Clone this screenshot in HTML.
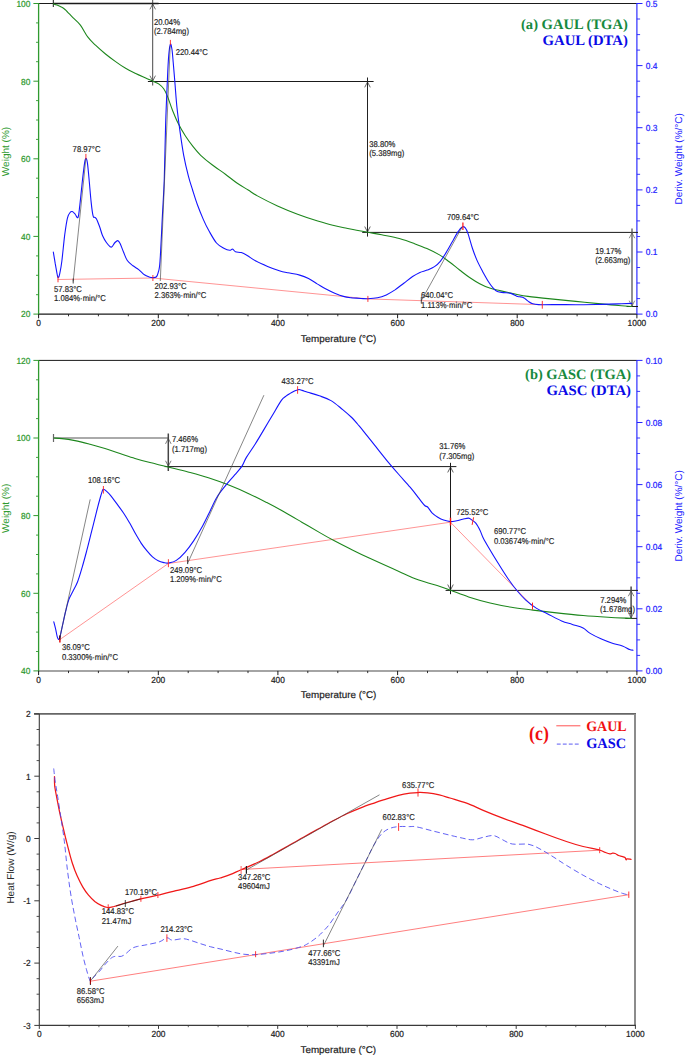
<!DOCTYPE html>
<html lang="en">
<head>
<meta charset="utf-8">
<title>TGA / DTA / DSC curves of GAUL and GASC</title>
<style>
html,body{margin:0;padding:0;background:#fff;}
body{width:685px;height:1055px;overflow:hidden;}
svg{display:block;}
text{white-space:pre;text-rendering:geometricPrecision;}
</style>
</head>
<body>
<svg width="685" height="1055" viewBox="0 0 685 1055">
<rect x="0" y="0" width="685" height="1055" fill="#ffffff"/>
<line x1="38.6" y1="3.5" x2="636.9" y2="3.5" stroke="#1a1a1a" stroke-width="1"/>
<line x1="38.6" y1="314.1" x2="636.9" y2="314.1" stroke="#1a1a1a" stroke-width="1.3"/>
<line x1="38.6" y1="3.0" x2="38.6" y2="314.6" stroke="#2f9a2f" stroke-width="1.3"/>
<line x1="636.9" y1="3.0" x2="636.9" y2="314.6" stroke="#2424ff" stroke-width="1.15"/>
<line x1="36.0" y1="294.7" x2="38.6" y2="294.7" stroke="#2f9a2f" stroke-width="0.9"/>
<line x1="36.0" y1="275.3" x2="38.6" y2="275.3" stroke="#2f9a2f" stroke-width="0.9"/>
<line x1="36.0" y1="255.9" x2="38.6" y2="255.9" stroke="#2f9a2f" stroke-width="0.9"/>
<line x1="36.0" y1="217.0" x2="38.6" y2="217.0" stroke="#2f9a2f" stroke-width="0.9"/>
<line x1="36.0" y1="197.6" x2="38.6" y2="197.6" stroke="#2f9a2f" stroke-width="0.9"/>
<line x1="36.0" y1="178.2" x2="38.6" y2="178.2" stroke="#2f9a2f" stroke-width="0.9"/>
<line x1="36.0" y1="139.4" x2="38.6" y2="139.4" stroke="#2f9a2f" stroke-width="0.9"/>
<line x1="36.0" y1="120.0" x2="38.6" y2="120.0" stroke="#2f9a2f" stroke-width="0.9"/>
<line x1="36.0" y1="100.6" x2="38.6" y2="100.6" stroke="#2f9a2f" stroke-width="0.9"/>
<line x1="36.0" y1="61.7" x2="38.6" y2="61.7" stroke="#2f9a2f" stroke-width="0.9"/>
<line x1="36.0" y1="42.3" x2="38.6" y2="42.3" stroke="#2f9a2f" stroke-width="0.9"/>
<line x1="36.0" y1="22.9" x2="38.6" y2="22.9" stroke="#2f9a2f" stroke-width="0.9"/>
<line x1="33.4" y1="3.5" x2="38.6" y2="3.5" stroke="#2f9a2f" stroke-width="1"/>
<text transform="translate(30.4 6.8) scale(0.95 1)" font-size="8.8" fill="#2f9a2f" stroke="#2f9a2f" stroke-width="0.22" text-anchor="end" font-family='"Liberation Sans", Arial, Helvetica, sans-serif' font-weight="normal">100</text>
<line x1="33.4" y1="81.2" x2="38.6" y2="81.2" stroke="#2f9a2f" stroke-width="1"/>
<text transform="translate(30.4 84.5) scale(0.95 1)" font-size="8.8" fill="#2f9a2f" stroke="#2f9a2f" stroke-width="0.22" text-anchor="end" font-family='"Liberation Sans", Arial, Helvetica, sans-serif' font-weight="normal">80</text>
<line x1="33.4" y1="158.8" x2="38.6" y2="158.8" stroke="#2f9a2f" stroke-width="1"/>
<text transform="translate(30.4 162.1) scale(0.95 1)" font-size="8.8" fill="#2f9a2f" stroke="#2f9a2f" stroke-width="0.22" text-anchor="end" font-family='"Liberation Sans", Arial, Helvetica, sans-serif' font-weight="normal">60</text>
<line x1="33.4" y1="236.4" x2="38.6" y2="236.4" stroke="#2f9a2f" stroke-width="1"/>
<text transform="translate(30.4 239.8) scale(0.95 1)" font-size="8.8" fill="#2f9a2f" stroke="#2f9a2f" stroke-width="0.22" text-anchor="end" font-family='"Liberation Sans", Arial, Helvetica, sans-serif' font-weight="normal">40</text>
<line x1="33.4" y1="314.1" x2="38.6" y2="314.1" stroke="#2f9a2f" stroke-width="1"/>
<text transform="translate(30.4 317.4) scale(0.95 1)" font-size="8.8" fill="#2f9a2f" stroke="#2f9a2f" stroke-width="0.22" text-anchor="end" font-family='"Liberation Sans", Arial, Helvetica, sans-serif' font-weight="normal">20</text>
<line x1="636.9" y1="298.6" x2="640.1" y2="298.6" stroke="#2424ff" stroke-width="0.9"/>
<line x1="636.9" y1="283.0" x2="640.1" y2="283.0" stroke="#2424ff" stroke-width="0.9"/>
<line x1="636.9" y1="267.5" x2="640.1" y2="267.5" stroke="#2424ff" stroke-width="0.9"/>
<line x1="636.9" y1="236.5" x2="640.1" y2="236.5" stroke="#2424ff" stroke-width="0.9"/>
<line x1="636.9" y1="220.9" x2="640.1" y2="220.9" stroke="#2424ff" stroke-width="0.9"/>
<line x1="636.9" y1="205.4" x2="640.1" y2="205.4" stroke="#2424ff" stroke-width="0.9"/>
<line x1="636.9" y1="174.3" x2="640.1" y2="174.3" stroke="#2424ff" stroke-width="0.9"/>
<line x1="636.9" y1="158.8" x2="640.1" y2="158.8" stroke="#2424ff" stroke-width="0.9"/>
<line x1="636.9" y1="143.3" x2="640.1" y2="143.3" stroke="#2424ff" stroke-width="0.9"/>
<line x1="636.9" y1="112.2" x2="640.1" y2="112.2" stroke="#2424ff" stroke-width="0.9"/>
<line x1="636.9" y1="96.7" x2="640.1" y2="96.7" stroke="#2424ff" stroke-width="0.9"/>
<line x1="636.9" y1="81.2" x2="640.1" y2="81.2" stroke="#2424ff" stroke-width="0.9"/>
<line x1="636.9" y1="50.1" x2="640.1" y2="50.1" stroke="#2424ff" stroke-width="0.9"/>
<line x1="636.9" y1="34.6" x2="640.1" y2="34.6" stroke="#2424ff" stroke-width="0.9"/>
<line x1="636.9" y1="19.0" x2="640.1" y2="19.0" stroke="#2424ff" stroke-width="0.9"/>
<line x1="636.9" y1="314.1" x2="642.5" y2="314.1" stroke="#2424ff" stroke-width="1"/>
<text transform="translate(645.8 317.2) scale(0.95 1)" font-size="8.8" fill="#2424ff" stroke="#2424ff" stroke-width="0.22" text-anchor="start" font-family='"Liberation Sans", Arial, Helvetica, sans-serif' font-weight="normal">0.0</text>
<line x1="636.9" y1="252.0" x2="642.5" y2="252.0" stroke="#2424ff" stroke-width="1"/>
<text transform="translate(645.8 255.1) scale(0.95 1)" font-size="8.8" fill="#2424ff" stroke="#2424ff" stroke-width="0.22" text-anchor="start" font-family='"Liberation Sans", Arial, Helvetica, sans-serif' font-weight="normal">0.1</text>
<line x1="636.9" y1="189.9" x2="642.5" y2="189.9" stroke="#2424ff" stroke-width="1"/>
<text transform="translate(645.8 193.0) scale(0.95 1)" font-size="8.8" fill="#2424ff" stroke="#2424ff" stroke-width="0.22" text-anchor="start" font-family='"Liberation Sans", Arial, Helvetica, sans-serif' font-weight="normal">0.2</text>
<line x1="636.9" y1="127.7" x2="642.5" y2="127.7" stroke="#2424ff" stroke-width="1"/>
<text transform="translate(645.8 130.8) scale(0.95 1)" font-size="8.8" fill="#2424ff" stroke="#2424ff" stroke-width="0.22" text-anchor="start" font-family='"Liberation Sans", Arial, Helvetica, sans-serif' font-weight="normal">0.3</text>
<line x1="636.9" y1="65.6" x2="642.5" y2="65.6" stroke="#2424ff" stroke-width="1"/>
<text transform="translate(645.8 68.7) scale(0.95 1)" font-size="8.8" fill="#2424ff" stroke="#2424ff" stroke-width="0.22" text-anchor="start" font-family='"Liberation Sans", Arial, Helvetica, sans-serif' font-weight="normal">0.4</text>
<line x1="636.9" y1="3.5" x2="642.5" y2="3.5" stroke="#2424ff" stroke-width="1"/>
<text transform="translate(645.8 6.6) scale(0.95 1)" font-size="8.8" fill="#2424ff" stroke="#2424ff" stroke-width="0.22" text-anchor="start" font-family='"Liberation Sans", Arial, Helvetica, sans-serif' font-weight="normal">0.5</text>
<line x1="38.6" y1="314.1" x2="38.6" y2="318.3" stroke="#1a1a1a" stroke-width="1"/>
<text transform="translate(38.6 326.2) scale(0.95 1)" font-size="8.8" fill="#1f1f1f" stroke="#1f1f1f" stroke-width="0.22" text-anchor="middle" font-family='"Liberation Sans", Arial, Helvetica, sans-serif' font-weight="normal">0</text>
<line x1="68.5" y1="314.1" x2="68.5" y2="316.3" stroke="#1a1a1a" stroke-width="0.9"/>
<line x1="98.4" y1="314.1" x2="98.4" y2="316.3" stroke="#1a1a1a" stroke-width="0.9"/>
<line x1="128.3" y1="314.1" x2="128.3" y2="316.3" stroke="#1a1a1a" stroke-width="0.9"/>
<line x1="158.3" y1="314.1" x2="158.3" y2="318.3" stroke="#1a1a1a" stroke-width="1"/>
<text transform="translate(158.3 326.2) scale(0.95 1)" font-size="8.8" fill="#1f1f1f" stroke="#1f1f1f" stroke-width="0.22" text-anchor="middle" font-family='"Liberation Sans", Arial, Helvetica, sans-serif' font-weight="normal">200</text>
<line x1="188.2" y1="314.1" x2="188.2" y2="316.3" stroke="#1a1a1a" stroke-width="0.9"/>
<line x1="218.1" y1="314.1" x2="218.1" y2="316.3" stroke="#1a1a1a" stroke-width="0.9"/>
<line x1="248.0" y1="314.1" x2="248.0" y2="316.3" stroke="#1a1a1a" stroke-width="0.9"/>
<line x1="277.9" y1="314.1" x2="277.9" y2="318.3" stroke="#1a1a1a" stroke-width="1"/>
<text transform="translate(277.9 326.2) scale(0.95 1)" font-size="8.8" fill="#1f1f1f" stroke="#1f1f1f" stroke-width="0.22" text-anchor="middle" font-family='"Liberation Sans", Arial, Helvetica, sans-serif' font-weight="normal">400</text>
<line x1="307.8" y1="314.1" x2="307.8" y2="316.3" stroke="#1a1a1a" stroke-width="0.9"/>
<line x1="337.8" y1="314.1" x2="337.8" y2="316.3" stroke="#1a1a1a" stroke-width="0.9"/>
<line x1="367.7" y1="314.1" x2="367.7" y2="316.3" stroke="#1a1a1a" stroke-width="0.9"/>
<line x1="397.6" y1="314.1" x2="397.6" y2="318.3" stroke="#1a1a1a" stroke-width="1"/>
<text transform="translate(397.6 326.2) scale(0.95 1)" font-size="8.8" fill="#1f1f1f" stroke="#1f1f1f" stroke-width="0.22" text-anchor="middle" font-family='"Liberation Sans", Arial, Helvetica, sans-serif' font-weight="normal">600</text>
<line x1="427.5" y1="314.1" x2="427.5" y2="316.3" stroke="#1a1a1a" stroke-width="0.9"/>
<line x1="457.4" y1="314.1" x2="457.4" y2="316.3" stroke="#1a1a1a" stroke-width="0.9"/>
<line x1="487.3" y1="314.1" x2="487.3" y2="316.3" stroke="#1a1a1a" stroke-width="0.9"/>
<line x1="517.2" y1="314.1" x2="517.2" y2="318.3" stroke="#1a1a1a" stroke-width="1"/>
<text transform="translate(517.2 326.2) scale(0.95 1)" font-size="8.8" fill="#1f1f1f" stroke="#1f1f1f" stroke-width="0.22" text-anchor="middle" font-family='"Liberation Sans", Arial, Helvetica, sans-serif' font-weight="normal">800</text>
<line x1="547.2" y1="314.1" x2="547.2" y2="316.3" stroke="#1a1a1a" stroke-width="0.9"/>
<line x1="577.1" y1="314.1" x2="577.1" y2="316.3" stroke="#1a1a1a" stroke-width="0.9"/>
<line x1="607.0" y1="314.1" x2="607.0" y2="316.3" stroke="#1a1a1a" stroke-width="0.9"/>
<line x1="636.9" y1="314.1" x2="636.9" y2="318.3" stroke="#1a1a1a" stroke-width="1"/>
<text transform="translate(636.9 326.2) scale(0.95 1)" font-size="8.8" fill="#1f1f1f" stroke="#1f1f1f" stroke-width="0.22" text-anchor="middle" font-family='"Liberation Sans", Arial, Helvetica, sans-serif' font-weight="normal">1000</text>
<text transform="translate(8.6 151.5) rotate(-90)" font-size="10" fill="#2f9a2f" text-anchor="middle" font-family='"Liberation Sans", Arial, Helvetica, sans-serif'>Weight (%)</text>
<text transform="translate(682.3 158.8) rotate(-90)" font-size="10" fill="#2424ff" text-anchor="middle" font-family='"Liberation Sans", Arial, Helvetica, sans-serif'>Deriv. Weight (%/°C)</text>
<text transform="translate(338.5 341.6) scale(0.985 0.98)" font-size="10" fill="#222" stroke="#222" stroke-width="0.2" text-anchor="middle" font-family='"Liberation Sans", Arial, Helvetica, sans-serif'>Temperature (°C)</text>
<line x1="53.3" y1="3.5" x2="158.6" y2="3.5" stroke="#1a1a1a" stroke-width="1.6"/>
<line x1="53.3" y1="0.0" x2="53.3" y2="7.0" stroke="#1a1a1a" stroke-width="1"/>
<line x1="147.9" y1="81.5" x2="373.6" y2="81.5" stroke="#1a1a1a" stroke-width="1"/>
<line x1="152.7" y1="3.5" x2="152.7" y2="81.5" stroke="#333" stroke-width="0.9"/>
<path d="M150.1 9.0 L152.7 4.0 L155.3 9.0" fill="none" stroke="#333" stroke-width="0.7" stroke-linejoin="round" stroke-linecap="round"/>
<path d="M150.1 76.0 L152.7 81.0 L155.3 76.0" fill="none" stroke="#333" stroke-width="0.7" stroke-linejoin="round" stroke-linecap="round"/>
<line x1="152.7" y1="0.0" x2="152.7" y2="3.5" stroke="#333" stroke-width="0.9"/>
<line x1="152.7" y1="81.5" x2="152.7" y2="85.5" stroke="#333" stroke-width="0.9"/>
<line x1="362.2" y1="232.4" x2="638.0" y2="232.4" stroke="#1a1a1a" stroke-width="1"/>
<line x1="367.5" y1="81.5" x2="367.5" y2="232.4" stroke="#222" stroke-width="1"/>
<path d="M364.9 87.0 L367.5 82.0 L370.1 87.0" fill="none" stroke="#222" stroke-width="0.7" stroke-linejoin="round" stroke-linecap="round"/>
<path d="M364.9 226.9 L367.5 231.9 L370.1 226.9" fill="none" stroke="#222" stroke-width="0.7" stroke-linejoin="round" stroke-linecap="round"/>
<line x1="367.5" y1="77.5" x2="367.5" y2="81.5" stroke="#222" stroke-width="1"/>
<line x1="367.5" y1="232.4" x2="367.5" y2="236.6" stroke="#222" stroke-width="1"/>
<line x1="632.0" y1="232.4" x2="632.0" y2="306.5" stroke="#555" stroke-width="1.3"/>
<path d="M629.4 237.9 L632.0 232.9 L634.6 237.9" fill="none" stroke="#555" stroke-width="0.7" stroke-linejoin="round" stroke-linecap="round"/>
<path d="M629.4 301.0 L632.0 306.0 L634.6 301.0" fill="none" stroke="#555" stroke-width="0.7" stroke-linejoin="round" stroke-linecap="round"/>
<line x1="632.0" y1="228.5" x2="632.0" y2="232.4" stroke="#555" stroke-width="1.3"/>
<line x1="626.6" y1="306.5" x2="638.0" y2="306.5" stroke="#1a1a1a" stroke-width="1"/>
<path d="M58.0 279.5 L152.9 278.0 L367.9 298.9 L542.6 304.7" fill="none" stroke="#ff7070" stroke-width="0.75" stroke-linejoin="round" stroke-linecap="round"/>
<path d="M53.3 3.8C53.9 4.0 55.8 4.6 57.0 5.1C58.2 5.6 59.3 6.1 60.3 6.6C61.3 7.1 62.2 7.4 63.1 8.0C64.0 8.6 65.0 9.5 65.8 10.2C66.6 10.9 66.6 11.1 67.8 12.3C69.0 13.5 70.8 15.5 72.9 17.6C75.0 19.7 77.9 21.8 80.4 25.1C82.9 28.4 85.4 33.9 87.9 37.2C90.4 40.6 92.6 42.4 95.5 45.2C98.4 48.0 102.2 51.3 105.5 54.0C108.8 56.7 112.2 59.2 115.6 61.6C118.9 64.0 122.2 66.3 125.6 68.3C128.9 70.3 132.3 71.8 135.7 73.4C139.0 75.0 142.8 76.6 145.7 77.9C148.6 79.2 151.1 80.4 153.3 81.4C155.5 82.4 157.3 82.9 159.0 84.1C160.7 85.3 162.3 86.8 163.7 88.8C165.1 90.8 166.1 92.9 167.5 96.4C168.9 99.9 170.6 105.3 172.3 109.7C174.1 114.1 175.8 118.6 178.0 123.0C180.2 127.4 183.1 132.4 185.6 136.3C188.1 140.2 190.6 143.5 193.1 146.7C195.6 149.9 197.5 152.3 200.7 155.3C203.9 158.3 208.0 161.7 212.1 164.8C216.2 168.0 221.2 171.1 225.4 174.2C229.6 177.3 233.5 180.7 237.3 183.3C241.1 185.9 244.8 187.9 248.2 190.0C251.5 192.1 252.5 193.2 257.4 195.9C262.3 198.6 270.8 202.9 277.5 205.9C284.2 208.9 290.9 211.7 297.6 214.2C304.3 216.7 311.8 219.2 317.7 221.0C323.6 222.8 328.4 224.2 332.8 225.3C337.2 226.4 340.0 227.0 344.0 227.8C348.0 228.6 352.6 229.6 356.6 230.3C360.6 231.1 363.7 231.6 367.9 232.3C372.1 233.1 376.5 233.8 381.7 234.8C386.9 235.9 393.9 237.1 399.3 238.6C404.7 240.1 409.7 241.9 414.3 243.6C418.9 245.3 422.7 246.7 426.9 248.6C431.1 250.5 435.7 252.7 439.5 254.9C443.3 257.1 446.1 259.5 449.5 262.0C452.9 264.5 456.2 267.4 459.6 270.0C463.0 272.6 466.2 275.2 469.6 277.5C473.0 279.8 476.4 282.0 479.7 283.8C483.0 285.6 486.3 287.0 489.7 288.1C493.1 289.2 495.4 289.6 499.8 290.6C504.2 291.6 511.4 293.2 516.1 294.2C520.8 295.2 522.2 295.6 528.0 296.4C533.8 297.2 542.7 298.1 550.7 298.9C558.7 299.7 567.4 300.6 575.8 301.4C584.2 302.2 593.9 303.2 601.0 303.9C608.1 304.6 613.4 305.1 618.5 305.5C623.6 305.9 629.6 306.3 631.8 306.5" fill="none" stroke="#1c861c" stroke-width="1.08" stroke-linejoin="round" stroke-linecap="round"/>
<path d="M53.3 252.0C53.6 253.9 54.6 259.6 55.2 263.4C55.9 267.1 56.7 272.1 57.2 274.5C57.7 276.9 57.7 277.3 58.0 277.6C58.3 277.9 58.7 277.3 59.0 276.5C59.3 275.7 59.4 275.4 59.9 272.9C60.4 270.4 61.0 267.8 61.8 261.5C62.6 255.2 63.8 242.2 64.7 234.9C65.7 227.6 66.5 221.6 67.5 217.8C68.5 214.0 69.6 213.1 70.4 212.1C71.2 211.1 71.5 211.3 72.3 211.6C73.1 211.9 74.1 213.0 75.1 214.0C76.0 215.0 77.2 219.0 78.0 217.4C78.8 215.8 79.1 211.1 79.9 204.5C80.7 197.9 81.9 184.9 82.7 178.0C83.5 171.1 84.1 166.1 84.6 162.8C85.1 159.5 85.4 158.4 85.9 158.4C86.4 158.4 86.8 158.9 87.4 162.8C88.0 166.7 88.7 175.2 89.3 181.8C89.9 188.4 90.6 196.9 91.2 202.6C91.8 208.3 92.5 213.4 93.1 215.9C93.7 218.4 94.4 216.8 95.0 217.4C95.6 218.0 96.1 218.0 96.9 219.7C97.7 221.3 98.8 224.6 99.8 227.3C100.8 230.0 101.5 233.3 102.6 235.8C103.7 238.3 105.1 240.7 106.4 242.5C107.7 244.3 109.2 246.0 110.2 246.7C111.2 247.4 111.3 247.4 112.1 246.7C112.9 246.0 114.0 243.5 115.0 242.5C116.0 241.5 117.0 240.4 117.8 240.6C118.6 240.8 119.1 241.5 120.1 243.4C121.0 245.3 122.3 249.2 123.5 252.0C124.7 254.8 125.7 258.2 127.3 260.5C128.9 262.8 131.1 264.3 133.0 265.8C134.9 267.3 136.8 268.1 138.7 269.6C140.6 271.1 142.7 273.6 144.4 274.8C146.1 276.0 147.7 276.5 149.1 277.0C150.5 277.5 151.7 277.6 152.9 277.6C154.1 277.6 155.3 277.8 156.2 277.0C157.1 276.2 157.5 275.5 158.1 272.9C158.7 270.3 159.3 271.0 160.0 261.5C160.7 252.0 161.7 229.8 162.4 215.9C163.1 202.0 163.8 193.2 164.3 178.0C164.8 162.8 165.1 141.7 165.6 124.9C166.1 108.1 167.0 89.1 167.5 77.4C168.0 65.7 168.3 60.2 168.8 54.7C169.3 49.2 169.9 45.2 170.4 44.2C170.9 43.2 171.4 46.0 171.9 49.0C172.4 52.0 172.7 56.3 173.2 62.3C173.7 68.3 174.5 77.4 175.1 85.0C175.7 92.6 176.2 100.2 177.0 107.8C177.8 115.4 178.8 122.7 179.9 130.6C181.0 138.5 182.3 147.7 183.7 155.3C185.1 162.9 186.9 170.3 188.4 176.1C189.9 181.9 191.1 185.2 192.6 190.0C194.1 194.8 195.7 200.1 197.5 205.0C199.3 209.9 201.5 215.2 203.4 219.6C205.3 224.0 207.0 227.4 209.2 231.3C211.4 235.2 214.1 240.2 216.5 243.0C218.9 245.8 221.6 247.0 223.8 248.2C226.0 249.4 228.1 250.2 229.6 250.3C231.1 250.5 231.6 248.8 232.6 249.1C233.6 249.3 234.1 251.2 235.5 251.8C236.9 252.4 239.4 252.0 241.3 252.6C243.2 253.2 244.8 254.1 247.2 255.5C249.6 256.9 252.5 259.3 255.9 261.1C259.3 262.9 263.7 264.8 267.6 266.4C271.5 268.0 275.9 269.6 279.3 270.7C282.7 271.8 284.6 272.1 288.0 272.8C291.4 273.5 296.3 274.1 299.7 275.1C303.1 276.1 305.6 277.1 308.5 278.6C311.4 280.1 314.3 282.1 317.2 283.9C320.1 285.6 323.1 287.6 326.0 289.1C328.9 290.7 331.8 292.0 334.7 293.2C337.6 294.4 340.6 295.6 343.5 296.4C346.4 297.2 349.4 297.5 352.3 297.9C355.2 298.2 358.4 298.4 361.0 298.5C363.6 298.6 365.1 298.8 367.9 298.7C370.6 298.6 374.4 298.4 377.5 297.8C380.6 297.2 383.4 296.2 386.3 294.9C389.2 293.6 392.1 291.8 395.0 289.9C397.9 287.9 400.9 285.4 403.8 283.2C406.7 281.0 409.9 278.3 412.6 276.5C415.3 274.7 417.5 273.5 419.9 272.4C422.3 271.3 424.8 271.1 427.2 270.1C429.6 269.1 432.3 268.1 434.5 266.6C436.7 265.1 438.4 263.6 440.3 261.3C442.2 259.0 444.2 255.8 446.1 252.6C448.1 249.4 450.1 245.7 452.0 242.3C453.9 238.9 456.1 234.7 457.8 232.1C459.5 229.5 461.0 227.6 462.2 226.9C463.4 226.2 464.1 226.6 465.1 227.7C466.1 228.8 466.8 230.2 468.0 233.6C469.2 237.0 470.9 243.8 472.4 248.2C473.9 252.6 475.1 256.0 476.8 259.9C478.5 263.8 480.7 267.9 482.6 271.5C484.6 275.1 486.8 279.1 488.5 281.8C490.2 284.5 491.3 286.0 492.8 287.6C494.3 289.2 495.6 290.8 497.4 291.6C499.2 292.4 501.4 292.3 503.6 292.6C505.9 292.9 508.7 292.8 510.9 293.4C513.1 294.0 515.3 295.6 516.7 296.2C518.1 296.8 518.5 296.6 519.5 296.8C520.5 297.0 521.6 296.8 522.6 297.2C523.6 297.6 524.5 298.3 525.5 299.0C526.5 299.7 527.2 300.6 528.4 301.4C529.6 302.2 531.1 303.3 532.8 303.8C534.5 304.3 537.0 304.5 538.6 304.6C540.2 304.8 538.9 304.7 542.5 304.7C546.1 304.7 554.5 304.6 560.0 304.6C565.5 304.6 569.0 304.7 575.8 304.7C582.6 304.7 593.9 304.5 601.0 304.4C608.1 304.3 613.4 304.1 618.5 303.9C623.6 303.7 629.6 303.5 631.8 303.4" fill="none" stroke="#1414ff" stroke-width="1.1" stroke-linejoin="round" stroke-linecap="round"/>
<line x1="73.2" y1="281.4" x2="85.9" y2="158.4" stroke="#444" stroke-width="0.65"/>
<line x1="73.2" y1="278.5" x2="73.2" y2="283.5" stroke="#1a1a1a" stroke-width="0.8"/>
<line x1="160.3" y1="281.0" x2="170.2" y2="46.0" stroke="#444" stroke-width="0.65"/>
<line x1="421.3" y1="300.7" x2="462.2" y2="226.9" stroke="#444" stroke-width="0.65"/>
<line x1="421.3" y1="297.0" x2="421.3" y2="303.5" stroke="#1a1a1a" stroke-width="0.8"/>
<line x1="58.0" y1="276.7" x2="58.0" y2="282.3" stroke="#ff2020" stroke-width="0.9"/>
<line x1="85.9" y1="153.9" x2="85.9" y2="159.1" stroke="#ff2020" stroke-width="0.9"/>
<line x1="152.9" y1="275.0" x2="152.9" y2="281.0" stroke="#ff2020" stroke-width="0.9"/>
<line x1="170.4" y1="39.9" x2="170.4" y2="45.1" stroke="#ff2020" stroke-width="0.9"/>
<line x1="367.9" y1="295.9" x2="367.9" y2="301.9" stroke="#ff2020" stroke-width="0.9"/>
<line x1="462.9" y1="222.5" x2="462.9" y2="230.1" stroke="#ff2020" stroke-width="1.3"/>
<line x1="542.3" y1="300.9" x2="542.3" y2="308.7" stroke="#ff2020" stroke-width="0.9"/>
<text transform="translate(153.9 25.0) scale(0.905 1)" font-size="8.5" fill="#1f1f1f" stroke="#1f1f1f" stroke-width="0.18" text-anchor="start" font-family='"Liberation Sans", Arial, Helvetica, sans-serif' font-weight="normal">20.04%</text>
<text transform="translate(153.9 33.8) scale(0.905 1)" font-size="8.5" fill="#1f1f1f" stroke="#1f1f1f" stroke-width="0.18" text-anchor="start" font-family='"Liberation Sans", Arial, Helvetica, sans-serif' font-weight="normal">(2.784mg)</text>
<text transform="translate(175.7 54.7) scale(0.905 1)" font-size="8.5" fill="#1f1f1f" stroke="#1f1f1f" stroke-width="0.18" text-anchor="start" font-family='"Liberation Sans", Arial, Helvetica, sans-serif' font-weight="normal">220.44°C</text>
<text transform="translate(72.6 152.1) scale(0.905 1)" font-size="8.5" fill="#1f1f1f" stroke="#1f1f1f" stroke-width="0.18" text-anchor="start" font-family='"Liberation Sans", Arial, Helvetica, sans-serif' font-weight="normal">78.97°C</text>
<text transform="translate(54.0 292.0) scale(0.905 1)" font-size="8.5" fill="#1f1f1f" stroke="#1f1f1f" stroke-width="0.18" text-anchor="start" font-family='"Liberation Sans", Arial, Helvetica, sans-serif' font-weight="normal">57.83°C</text>
<text transform="translate(54.0 301.2) scale(0.905 1)" font-size="8.5" fill="#1f1f1f" stroke="#1f1f1f" stroke-width="0.18" text-anchor="start" font-family='"Liberation Sans", Arial, Helvetica, sans-serif' font-weight="normal">1.084%·min/°C</text>
<text transform="translate(154.5 289.2) scale(0.905 1)" font-size="8.5" fill="#1f1f1f" stroke="#1f1f1f" stroke-width="0.18" text-anchor="start" font-family='"Liberation Sans", Arial, Helvetica, sans-serif' font-weight="normal">202.93°C</text>
<text transform="translate(154.5 298.2) scale(0.905 1)" font-size="8.5" fill="#1f1f1f" stroke="#1f1f1f" stroke-width="0.18" text-anchor="start" font-family='"Liberation Sans", Arial, Helvetica, sans-serif' font-weight="normal">2.363%·min/°C</text>
<text transform="translate(369.2 146.8) scale(0.905 1)" font-size="8.5" fill="#1f1f1f" stroke="#1f1f1f" stroke-width="0.18" text-anchor="start" font-family='"Liberation Sans", Arial, Helvetica, sans-serif' font-weight="normal">38.80%</text>
<text transform="translate(369.2 155.9) scale(0.905 1)" font-size="8.5" fill="#1f1f1f" stroke="#1f1f1f" stroke-width="0.18" text-anchor="start" font-family='"Liberation Sans", Arial, Helvetica, sans-serif' font-weight="normal">(5.389mg)</text>
<text transform="translate(447.0 219.9) scale(0.905 1)" font-size="8.5" fill="#1f1f1f" stroke="#1f1f1f" stroke-width="0.18" text-anchor="start" font-family='"Liberation Sans", Arial, Helvetica, sans-serif' font-weight="normal">709.64°C</text>
<text transform="translate(421.0 298.4) scale(0.905 1)" font-size="8.5" fill="#1f1f1f" stroke="#1f1f1f" stroke-width="0.18" text-anchor="start" font-family='"Liberation Sans", Arial, Helvetica, sans-serif' font-weight="normal">640.04°C</text>
<text transform="translate(421.0 307.6) scale(0.905 1)" font-size="8.5" fill="#1f1f1f" stroke="#1f1f1f" stroke-width="0.18" text-anchor="start" font-family='"Liberation Sans", Arial, Helvetica, sans-serif' font-weight="normal">1.113%·min/°C</text>
<text transform="translate(595.2 253.6) scale(0.905 1)" font-size="8.5" fill="#1f1f1f" stroke="#1f1f1f" stroke-width="0.18" text-anchor="start" font-family='"Liberation Sans", Arial, Helvetica, sans-serif' font-weight="normal">19.17%</text>
<text transform="translate(595.2 262.8) scale(0.905 1)" font-size="8.5" fill="#1f1f1f" stroke="#1f1f1f" stroke-width="0.18" text-anchor="start" font-family='"Liberation Sans", Arial, Helvetica, sans-serif' font-weight="normal">(2.663mg)</text>
<text x="627.8" y="28.9" font-size="14.5" fill="#178a40" text-anchor="end" font-family='"Liberation Serif", "Times New Roman", serif' font-weight="bold" textLength="106.8" lengthAdjust="spacingAndGlyphs">(a) GAUL (TGA)</text>
<text x="627.8" y="45.2" font-size="14.5" fill="#0a0ae6" text-anchor="end" font-family='"Liberation Serif", "Times New Roman", serif' font-weight="bold" textLength="85.2" lengthAdjust="spacingAndGlyphs">GAUL (DTA)</text>
<line x1="38.6" y1="360.4" x2="636.9" y2="360.4" stroke="#1a1a1a" stroke-width="1"/>
<line x1="38.6" y1="670.9" x2="636.9" y2="670.9" stroke="#a4a4a4" stroke-width="2.0"/>
<line x1="38.6" y1="359.9" x2="38.6" y2="671.4" stroke="#2f9a2f" stroke-width="1.3"/>
<line x1="636.9" y1="359.9" x2="636.9" y2="671.4" stroke="#2424ff" stroke-width="1.15"/>
<line x1="36.0" y1="651.5" x2="38.6" y2="651.5" stroke="#2f9a2f" stroke-width="0.9"/>
<line x1="36.0" y1="632.1" x2="38.6" y2="632.1" stroke="#2f9a2f" stroke-width="0.9"/>
<line x1="36.0" y1="612.7" x2="38.6" y2="612.7" stroke="#2f9a2f" stroke-width="0.9"/>
<line x1="36.0" y1="573.9" x2="38.6" y2="573.9" stroke="#2f9a2f" stroke-width="0.9"/>
<line x1="36.0" y1="554.5" x2="38.6" y2="554.5" stroke="#2f9a2f" stroke-width="0.9"/>
<line x1="36.0" y1="535.1" x2="38.6" y2="535.1" stroke="#2f9a2f" stroke-width="0.9"/>
<line x1="36.0" y1="496.2" x2="38.6" y2="496.2" stroke="#2f9a2f" stroke-width="0.9"/>
<line x1="36.0" y1="476.8" x2="38.6" y2="476.8" stroke="#2f9a2f" stroke-width="0.9"/>
<line x1="36.0" y1="457.4" x2="38.6" y2="457.4" stroke="#2f9a2f" stroke-width="0.9"/>
<line x1="36.0" y1="418.6" x2="38.6" y2="418.6" stroke="#2f9a2f" stroke-width="0.9"/>
<line x1="36.0" y1="399.2" x2="38.6" y2="399.2" stroke="#2f9a2f" stroke-width="0.9"/>
<line x1="36.0" y1="379.8" x2="38.6" y2="379.8" stroke="#2f9a2f" stroke-width="0.9"/>
<line x1="33.4" y1="360.4" x2="38.6" y2="360.4" stroke="#2f9a2f" stroke-width="1"/>
<text transform="translate(30.4 363.7) scale(0.95 1)" font-size="8.8" fill="#2f9a2f" stroke="#2f9a2f" stroke-width="0.22" text-anchor="end" font-family='"Liberation Sans", Arial, Helvetica, sans-serif' font-weight="normal">120</text>
<line x1="33.4" y1="438.0" x2="38.6" y2="438.0" stroke="#2f9a2f" stroke-width="1"/>
<text transform="translate(30.4 441.3) scale(0.95 1)" font-size="8.8" fill="#2f9a2f" stroke="#2f9a2f" stroke-width="0.22" text-anchor="end" font-family='"Liberation Sans", Arial, Helvetica, sans-serif' font-weight="normal">100</text>
<line x1="33.4" y1="515.6" x2="38.6" y2="515.6" stroke="#2f9a2f" stroke-width="1"/>
<text transform="translate(30.4 518.9) scale(0.95 1)" font-size="8.8" fill="#2f9a2f" stroke="#2f9a2f" stroke-width="0.22" text-anchor="end" font-family='"Liberation Sans", Arial, Helvetica, sans-serif' font-weight="normal">80</text>
<line x1="33.4" y1="593.3" x2="38.6" y2="593.3" stroke="#2f9a2f" stroke-width="1"/>
<text transform="translate(30.4 596.6) scale(0.95 1)" font-size="8.8" fill="#2f9a2f" stroke="#2f9a2f" stroke-width="0.22" text-anchor="end" font-family='"Liberation Sans", Arial, Helvetica, sans-serif' font-weight="normal">60</text>
<line x1="33.4" y1="670.9" x2="38.6" y2="670.9" stroke="#2f9a2f" stroke-width="1"/>
<text transform="translate(30.4 674.2) scale(0.95 1)" font-size="8.8" fill="#2f9a2f" stroke="#2f9a2f" stroke-width="0.22" text-anchor="end" font-family='"Liberation Sans", Arial, Helvetica, sans-serif' font-weight="normal">40</text>
<line x1="636.9" y1="655.4" x2="640.1" y2="655.4" stroke="#2424ff" stroke-width="0.9"/>
<line x1="636.9" y1="639.9" x2="640.1" y2="639.9" stroke="#2424ff" stroke-width="0.9"/>
<line x1="636.9" y1="624.3" x2="640.1" y2="624.3" stroke="#2424ff" stroke-width="0.9"/>
<line x1="636.9" y1="593.3" x2="640.1" y2="593.3" stroke="#2424ff" stroke-width="0.9"/>
<line x1="636.9" y1="577.8" x2="640.1" y2="577.8" stroke="#2424ff" stroke-width="0.9"/>
<line x1="636.9" y1="562.2" x2="640.1" y2="562.2" stroke="#2424ff" stroke-width="0.9"/>
<line x1="636.9" y1="531.2" x2="640.1" y2="531.2" stroke="#2424ff" stroke-width="0.9"/>
<line x1="636.9" y1="515.6" x2="640.1" y2="515.6" stroke="#2424ff" stroke-width="0.9"/>
<line x1="636.9" y1="500.1" x2="640.1" y2="500.1" stroke="#2424ff" stroke-width="0.9"/>
<line x1="636.9" y1="469.1" x2="640.1" y2="469.1" stroke="#2424ff" stroke-width="0.9"/>
<line x1="636.9" y1="453.5" x2="640.1" y2="453.5" stroke="#2424ff" stroke-width="0.9"/>
<line x1="636.9" y1="438.0" x2="640.1" y2="438.0" stroke="#2424ff" stroke-width="0.9"/>
<line x1="636.9" y1="407.0" x2="640.1" y2="407.0" stroke="#2424ff" stroke-width="0.9"/>
<line x1="636.9" y1="391.4" x2="640.1" y2="391.4" stroke="#2424ff" stroke-width="0.9"/>
<line x1="636.9" y1="375.9" x2="640.1" y2="375.9" stroke="#2424ff" stroke-width="0.9"/>
<line x1="636.9" y1="670.9" x2="642.5" y2="670.9" stroke="#2424ff" stroke-width="1"/>
<text transform="translate(645.8 674.0) scale(0.95 1)" font-size="8.8" fill="#2424ff" stroke="#2424ff" stroke-width="0.22" text-anchor="start" font-family='"Liberation Sans", Arial, Helvetica, sans-serif' font-weight="normal">0.00</text>
<line x1="636.9" y1="608.8" x2="642.5" y2="608.8" stroke="#2424ff" stroke-width="1"/>
<text transform="translate(645.8 611.9) scale(0.95 1)" font-size="8.8" fill="#2424ff" stroke="#2424ff" stroke-width="0.22" text-anchor="start" font-family='"Liberation Sans", Arial, Helvetica, sans-serif' font-weight="normal">0.02</text>
<line x1="636.9" y1="546.7" x2="642.5" y2="546.7" stroke="#2424ff" stroke-width="1"/>
<text transform="translate(645.8 549.8) scale(0.95 1)" font-size="8.8" fill="#2424ff" stroke="#2424ff" stroke-width="0.22" text-anchor="start" font-family='"Liberation Sans", Arial, Helvetica, sans-serif' font-weight="normal">0.04</text>
<line x1="636.9" y1="484.6" x2="642.5" y2="484.6" stroke="#2424ff" stroke-width="1"/>
<text transform="translate(645.8 487.7) scale(0.95 1)" font-size="8.8" fill="#2424ff" stroke="#2424ff" stroke-width="0.22" text-anchor="start" font-family='"Liberation Sans", Arial, Helvetica, sans-serif' font-weight="normal">0.06</text>
<line x1="636.9" y1="422.5" x2="642.5" y2="422.5" stroke="#2424ff" stroke-width="1"/>
<text transform="translate(645.8 425.6) scale(0.95 1)" font-size="8.8" fill="#2424ff" stroke="#2424ff" stroke-width="0.22" text-anchor="start" font-family='"Liberation Sans", Arial, Helvetica, sans-serif' font-weight="normal">0.08</text>
<line x1="636.9" y1="360.4" x2="642.5" y2="360.4" stroke="#2424ff" stroke-width="1"/>
<text transform="translate(645.8 363.5) scale(0.95 1)" font-size="8.8" fill="#2424ff" stroke="#2424ff" stroke-width="0.22" text-anchor="start" font-family='"Liberation Sans", Arial, Helvetica, sans-serif' font-weight="normal">0.10</text>
<line x1="38.6" y1="670.9" x2="38.6" y2="675.1" stroke="#1a1a1a" stroke-width="1"/>
<text transform="translate(38.6 683.0) scale(0.95 1)" font-size="8.8" fill="#1f1f1f" stroke="#1f1f1f" stroke-width="0.22" text-anchor="middle" font-family='"Liberation Sans", Arial, Helvetica, sans-serif' font-weight="normal">0</text>
<line x1="68.5" y1="670.9" x2="68.5" y2="673.1" stroke="#1a1a1a" stroke-width="0.9"/>
<line x1="98.4" y1="670.9" x2="98.4" y2="673.1" stroke="#1a1a1a" stroke-width="0.9"/>
<line x1="128.3" y1="670.9" x2="128.3" y2="673.1" stroke="#1a1a1a" stroke-width="0.9"/>
<line x1="158.3" y1="670.9" x2="158.3" y2="675.1" stroke="#1a1a1a" stroke-width="1"/>
<text transform="translate(158.3 683.0) scale(0.95 1)" font-size="8.8" fill="#1f1f1f" stroke="#1f1f1f" stroke-width="0.22" text-anchor="middle" font-family='"Liberation Sans", Arial, Helvetica, sans-serif' font-weight="normal">200</text>
<line x1="188.2" y1="670.9" x2="188.2" y2="673.1" stroke="#1a1a1a" stroke-width="0.9"/>
<line x1="218.1" y1="670.9" x2="218.1" y2="673.1" stroke="#1a1a1a" stroke-width="0.9"/>
<line x1="248.0" y1="670.9" x2="248.0" y2="673.1" stroke="#1a1a1a" stroke-width="0.9"/>
<line x1="277.9" y1="670.9" x2="277.9" y2="675.1" stroke="#1a1a1a" stroke-width="1"/>
<text transform="translate(277.9 683.0) scale(0.95 1)" font-size="8.8" fill="#1f1f1f" stroke="#1f1f1f" stroke-width="0.22" text-anchor="middle" font-family='"Liberation Sans", Arial, Helvetica, sans-serif' font-weight="normal">400</text>
<line x1="307.8" y1="670.9" x2="307.8" y2="673.1" stroke="#1a1a1a" stroke-width="0.9"/>
<line x1="337.8" y1="670.9" x2="337.8" y2="673.1" stroke="#1a1a1a" stroke-width="0.9"/>
<line x1="367.7" y1="670.9" x2="367.7" y2="673.1" stroke="#1a1a1a" stroke-width="0.9"/>
<line x1="397.6" y1="670.9" x2="397.6" y2="675.1" stroke="#1a1a1a" stroke-width="1"/>
<text transform="translate(397.6 683.0) scale(0.95 1)" font-size="8.8" fill="#1f1f1f" stroke="#1f1f1f" stroke-width="0.22" text-anchor="middle" font-family='"Liberation Sans", Arial, Helvetica, sans-serif' font-weight="normal">600</text>
<line x1="427.5" y1="670.9" x2="427.5" y2="673.1" stroke="#1a1a1a" stroke-width="0.9"/>
<line x1="457.4" y1="670.9" x2="457.4" y2="673.1" stroke="#1a1a1a" stroke-width="0.9"/>
<line x1="487.3" y1="670.9" x2="487.3" y2="673.1" stroke="#1a1a1a" stroke-width="0.9"/>
<line x1="517.2" y1="670.9" x2="517.2" y2="675.1" stroke="#1a1a1a" stroke-width="1"/>
<text transform="translate(517.2 683.0) scale(0.95 1)" font-size="8.8" fill="#1f1f1f" stroke="#1f1f1f" stroke-width="0.22" text-anchor="middle" font-family='"Liberation Sans", Arial, Helvetica, sans-serif' font-weight="normal">800</text>
<line x1="547.2" y1="670.9" x2="547.2" y2="673.1" stroke="#1a1a1a" stroke-width="0.9"/>
<line x1="577.1" y1="670.9" x2="577.1" y2="673.1" stroke="#1a1a1a" stroke-width="0.9"/>
<line x1="607.0" y1="670.9" x2="607.0" y2="673.1" stroke="#1a1a1a" stroke-width="0.9"/>
<line x1="636.9" y1="670.9" x2="636.9" y2="675.1" stroke="#1a1a1a" stroke-width="1"/>
<text transform="translate(636.9 683.0) scale(0.95 1)" font-size="8.8" fill="#1f1f1f" stroke="#1f1f1f" stroke-width="0.22" text-anchor="middle" font-family='"Liberation Sans", Arial, Helvetica, sans-serif' font-weight="normal">1000</text>
<text transform="translate(8.6 508.3) rotate(-90)" font-size="10" fill="#2f9a2f" text-anchor="middle" font-family='"Liberation Sans", Arial, Helvetica, sans-serif'>Weight (%)</text>
<text transform="translate(681.9 515.8) rotate(-90)" font-size="10" fill="#2424ff" text-anchor="middle" font-family='"Liberation Sans", Arial, Helvetica, sans-serif'>Deriv. Weight (%/°C)</text>
<text transform="translate(338.5 698.0) scale(0.985 0.98)" font-size="10" fill="#222" stroke="#222" stroke-width="0.2" text-anchor="middle" font-family='"Liberation Sans", Arial, Helvetica, sans-serif'>Temperature (°C)</text>
<line x1="53.5" y1="438.0" x2="168.3" y2="438.0" stroke="#8e8e8e" stroke-width="1.4"/>
<line x1="53.5" y1="434.0" x2="53.5" y2="442.0" stroke="#666" stroke-width="1.2"/>
<line x1="168.3" y1="438.0" x2="168.3" y2="466.6" stroke="#444" stroke-width="1.5"/>
<path d="M165.7 443.5 L168.3 438.5 L170.9 443.5" fill="none" stroke="#444" stroke-width="0.7" stroke-linejoin="round" stroke-linecap="round"/>
<path d="M165.7 461.1 L168.3 466.1 L170.9 461.1" fill="none" stroke="#444" stroke-width="0.7" stroke-linejoin="round" stroke-linecap="round"/>
<line x1="168.3" y1="433.5" x2="168.3" y2="438.0" stroke="#444" stroke-width="1.5"/>
<line x1="168.3" y1="466.6" x2="168.3" y2="471.0" stroke="#444" stroke-width="1.5"/>
<line x1="164.6" y1="466.6" x2="456.4" y2="466.6" stroke="#1a1a1a" stroke-width="1"/>
<line x1="450.5" y1="466.6" x2="450.5" y2="590.4" stroke="#1a1a1a" stroke-width="1"/>
<path d="M447.9 472.1 L450.5 467.1 L453.1 472.1" fill="none" stroke="#1a1a1a" stroke-width="0.7" stroke-linejoin="round" stroke-linecap="round"/>
<path d="M447.9 584.9 L450.5 589.9 L453.1 584.9" fill="none" stroke="#1a1a1a" stroke-width="0.7" stroke-linejoin="round" stroke-linecap="round"/>
<line x1="450.5" y1="462.8" x2="450.5" y2="466.6" stroke="#1a1a1a" stroke-width="1"/>
<line x1="450.5" y1="590.4" x2="450.5" y2="594.2" stroke="#1a1a1a" stroke-width="1"/>
<line x1="445.6" y1="590.4" x2="638.0" y2="590.4" stroke="#1a1a1a" stroke-width="1"/>
<line x1="631.1" y1="590.4" x2="631.1" y2="618.4" stroke="#4a4a4a" stroke-width="1.5"/>
<path d="M628.5 595.9 L631.1 590.9 L633.7 595.9" fill="none" stroke="#4a4a4a" stroke-width="0.7" stroke-linejoin="round" stroke-linecap="round"/>
<path d="M628.5 612.9 L631.1 617.9 L633.7 612.9" fill="none" stroke="#4a4a4a" stroke-width="0.7" stroke-linejoin="round" stroke-linecap="round"/>
<line x1="631.1" y1="586.5" x2="631.1" y2="590.4" stroke="#4a4a4a" stroke-width="1.5"/>
<line x1="625.3" y1="618.4" x2="636.9" y2="618.4" stroke="#1a1a1a" stroke-width="1"/>
<path d="M59.8 639.6 L168.3 563.5 L450.4 522.2 L532.5 606.1" fill="none" stroke="#ff7070" stroke-width="0.75" stroke-linejoin="round" stroke-linecap="round"/>
<path d="M54.0 438.0C55.3 438.1 58.5 438.2 62.0 438.6C65.5 439.0 70.3 439.7 75.0 440.6C79.7 441.5 85.0 442.9 90.0 444.2C95.0 445.5 100.0 447.0 105.0 448.6C110.0 450.2 115.0 452.0 120.0 453.6C125.0 455.2 130.0 456.9 135.0 458.4C140.0 459.9 144.5 461.2 150.0 462.6C155.5 464.0 161.8 465.4 168.1 467.0C174.4 468.6 181.3 470.2 188.0 472.0C194.7 473.8 201.6 475.6 208.4 477.8C215.2 480.0 222.0 482.4 228.8 485.1C235.6 487.8 243.0 491.0 249.3 493.9C255.6 496.8 261.0 499.6 266.8 502.6C272.6 505.6 278.5 508.7 284.3 512.0C290.1 515.3 296.0 518.8 301.8 522.2C307.6 525.6 314.0 529.3 319.3 532.4C324.6 535.5 328.8 537.9 333.9 540.6C339.0 543.3 344.1 545.9 350.0 548.8C355.9 551.7 361.1 554.4 369.2 558.1C377.3 561.8 390.1 567.6 398.4 571.2C406.7 574.9 411.9 577.5 418.8 580.0C425.7 582.5 434.7 584.7 440.0 586.4C445.3 588.1 445.9 588.5 450.7 590.3C455.5 592.0 462.0 594.8 468.6 596.9C475.2 599.0 483.0 601.3 490.1 603.0C497.2 604.7 504.4 606.1 511.5 607.3C518.6 608.5 525.9 609.2 533.0 610.1C540.1 611.0 546.0 611.7 554.4 612.6C562.8 613.5 574.1 614.7 583.1 615.5C592.1 616.3 600.1 616.8 608.1 617.3C616.1 617.8 627.4 618.2 631.3 618.4" fill="none" stroke="#1c861c" stroke-width="1.08" stroke-linejoin="round" stroke-linecap="round"/>
<path d="M53.8 621.8C54.1 623.1 55.1 626.9 55.7 629.4C56.3 631.9 56.7 634.9 57.2 636.6C57.7 638.3 58.4 639.8 58.9 639.5C59.4 639.2 59.7 638.1 60.4 635.1C61.1 632.1 62.3 626.1 63.3 621.8C64.2 617.5 65.1 613.3 66.1 609.5C67.0 605.7 67.9 602.1 69.0 599.1C70.1 596.1 71.4 594.4 72.8 591.5C74.2 588.6 75.9 586.1 77.5 582.0C79.1 577.9 80.7 572.2 82.3 566.8C83.9 561.4 85.4 555.7 87.0 549.7C88.6 543.7 90.2 537.0 91.8 530.7C93.4 524.4 95.1 517.3 96.5 511.8C97.9 506.3 99.3 501.0 100.3 497.5C101.3 494.0 101.9 492.0 102.4 490.6C102.9 489.2 103.0 489.5 103.3 489.3C103.6 489.1 103.8 489.4 104.3 489.6C104.8 489.9 104.9 489.8 106.0 490.8C107.1 491.8 109.0 493.5 110.7 495.6C112.4 497.7 114.2 500.2 116.4 503.2C118.6 506.2 121.8 510.4 124.0 513.7C126.2 517.0 127.8 519.8 129.7 523.1C131.6 526.4 133.5 530.3 135.4 533.6C137.3 536.9 139.2 540.2 141.1 543.1C143.0 546.0 144.9 548.4 146.8 550.7C148.7 553.0 150.6 555.2 152.5 556.9C154.4 558.6 156.3 559.8 158.2 560.7C160.1 561.7 162.2 562.2 163.9 562.6C165.6 563.0 166.5 563.4 168.6 563.0C170.7 562.6 173.6 562.2 176.3 560.4C179.0 558.6 182.1 555.6 185.0 552.3C187.9 549.0 190.9 545.0 193.8 540.6C196.7 536.2 199.9 530.9 202.6 526.0C205.3 521.1 207.5 516.3 209.9 511.4C212.3 506.5 214.5 501.2 217.2 496.8C219.9 492.4 223.0 488.8 225.9 485.1C228.8 481.5 232.0 478.1 234.7 474.9C237.4 471.7 240.1 469.0 242.0 466.1C243.9 463.2 244.2 461.0 246.4 457.4C248.6 453.8 252.2 448.8 255.1 444.2C258.0 439.6 261.0 434.5 263.9 429.6C266.8 424.7 269.7 419.9 272.6 415.0C275.5 410.1 279.2 403.5 281.4 400.4C283.6 397.3 284.6 397.4 286.0 396.2C287.4 395.0 288.8 394.2 290.1 393.4C291.4 392.6 292.8 391.9 294.0 391.3C295.2 390.7 296.7 390.3 297.5 390.0C298.3 389.7 298.2 389.4 299.0 389.5C299.8 389.6 300.6 389.9 302.0 390.4C303.4 390.8 304.8 391.3 307.7 392.2C310.6 393.1 315.4 394.4 319.3 395.8C323.2 397.2 327.1 398.3 331.0 400.6C334.9 402.9 339.2 406.8 342.7 409.6C346.1 412.4 349.2 415.1 351.7 417.5C354.2 419.9 355.6 421.7 357.5 424.0C359.4 426.3 360.5 427.5 363.4 431.1C366.3 434.7 371.1 440.8 375.0 445.7C378.9 450.6 382.8 455.6 386.7 460.3C390.6 465.0 394.5 469.5 398.4 474.0C402.3 478.5 406.7 483.2 410.1 487.2C413.5 491.2 416.4 495.1 418.8 498.2C421.2 501.2 423.2 504.0 424.7 505.5C426.2 507.0 426.4 505.8 427.6 507.0C428.8 508.2 430.3 511.1 432.0 512.8C433.7 514.5 435.9 516.0 437.8 517.2C439.7 518.4 441.5 519.4 443.6 520.1C445.7 520.8 448.2 521.5 450.4 521.6C452.6 521.7 454.8 521.1 456.8 520.7C458.8 520.3 460.7 519.7 462.6 519.3C464.6 518.9 466.9 518.0 468.5 518.1C470.1 518.2 470.8 519.3 472.0 520.1C473.2 520.9 474.4 521.4 475.8 523.1C477.2 524.8 478.9 528.0 480.1 530.4C481.3 532.8 481.6 534.8 483.1 537.7C484.6 540.6 486.5 543.9 488.9 548.0C491.3 552.1 494.5 557.4 497.7 562.5C500.9 567.6 504.7 573.8 507.9 578.5C511.1 583.2 513.9 586.9 516.9 590.5C519.9 594.1 522.5 597.1 525.8 600.1C529.1 603.1 533.0 606.1 536.6 608.4C540.2 610.7 543.1 611.6 547.3 613.7C551.5 615.8 557.4 619.1 561.6 620.9C565.8 622.7 568.7 623.2 572.3 624.4C575.9 625.6 580.1 626.5 583.1 628.0C586.1 629.5 587.2 631.6 590.2 633.4C593.2 635.2 597.3 637.2 600.9 638.8C604.5 640.4 608.1 641.8 611.7 643.0C615.3 644.2 619.4 644.8 622.4 645.9C625.4 647.0 627.8 648.8 629.6 649.5C631.4 650.2 632.5 650.1 633.1 650.2" fill="none" stroke="#1414ff" stroke-width="1.1" stroke-linejoin="round" stroke-linecap="round"/>
<line x1="59.5" y1="638.9" x2="90.2" y2="499.4" stroke="#444" stroke-width="0.65"/>
<line x1="188.0" y1="562.5" x2="263.9" y2="395.2" stroke="#444" stroke-width="0.65"/>
<line x1="187.7" y1="556.2" x2="187.7" y2="564.1" stroke="#1a1a1a" stroke-width="0.9"/>
<line x1="59.9" y1="635.5" x2="59.9" y2="639.5" stroke="#400000" stroke-width="1.4"/>
<line x1="59.9" y1="639.0" x2="59.9" y2="642.5" stroke="#e00000" stroke-width="1.4"/>
<line x1="103.4" y1="486.0" x2="103.4" y2="493.6" stroke="#ff2020" stroke-width="0.9"/>
<line x1="168.4" y1="559.2" x2="168.4" y2="567.2" stroke="#ff2020" stroke-width="0.9"/>
<line x1="297.6" y1="386.2" x2="297.6" y2="393.8" stroke="#ff2020" stroke-width="0.9"/>
<line x1="450.5" y1="517.7" x2="450.5" y2="525.5" stroke="#ee1010" stroke-width="1.4"/>
<line x1="473.6" y1="517.3" x2="472.1" y2="524.9" stroke="#ff2020" stroke-width="1"/>
<line x1="532.5" y1="602.6" x2="532.5" y2="609.7" stroke="#ff2020" stroke-width="1"/>
<text transform="translate(171.9 441.9) scale(0.905 1)" font-size="8.5" fill="#1f1f1f" stroke="#1f1f1f" stroke-width="0.18" text-anchor="start" font-family='"Liberation Sans", Arial, Helvetica, sans-serif' font-weight="normal">7.466%</text>
<text transform="translate(171.9 451.5) scale(0.905 1)" font-size="8.5" fill="#1f1f1f" stroke="#1f1f1f" stroke-width="0.18" text-anchor="start" font-family='"Liberation Sans", Arial, Helvetica, sans-serif' font-weight="normal">(1.717mg)</text>
<text transform="translate(88.0 483.2) scale(0.905 1)" font-size="8.5" fill="#1f1f1f" stroke="#1f1f1f" stroke-width="0.18" text-anchor="start" font-family='"Liberation Sans", Arial, Helvetica, sans-serif' font-weight="normal">108.16°C</text>
<text transform="translate(281.5 383.5) scale(0.905 1)" font-size="8.5" fill="#1f1f1f" stroke="#1f1f1f" stroke-width="0.18" text-anchor="start" font-family='"Liberation Sans", Arial, Helvetica, sans-serif' font-weight="normal">433.27°C</text>
<text transform="translate(169.9 572.7) scale(0.905 1)" font-size="8.5" fill="#1f1f1f" stroke="#1f1f1f" stroke-width="0.18" text-anchor="start" font-family='"Liberation Sans", Arial, Helvetica, sans-serif' font-weight="normal">249.09°C</text>
<text transform="translate(169.9 582.0) scale(0.905 1)" font-size="8.5" fill="#1f1f1f" stroke="#1f1f1f" stroke-width="0.18" text-anchor="start" font-family='"Liberation Sans", Arial, Helvetica, sans-serif' font-weight="normal">1.209%·min/°C</text>
<text transform="translate(61.9 650.1) scale(0.905 1)" font-size="8.5" fill="#1f1f1f" stroke="#1f1f1f" stroke-width="0.18" text-anchor="start" font-family='"Liberation Sans", Arial, Helvetica, sans-serif' font-weight="normal">36.09°C</text>
<text transform="translate(61.9 659.5) scale(0.905 1)" font-size="8.5" fill="#1f1f1f" stroke="#1f1f1f" stroke-width="0.18" text-anchor="start" font-family='"Liberation Sans", Arial, Helvetica, sans-serif' font-weight="normal">0.3300%·min/°C</text>
<text transform="translate(439.3 449.4) scale(0.905 1)" font-size="8.5" fill="#1f1f1f" stroke="#1f1f1f" stroke-width="0.18" text-anchor="start" font-family='"Liberation Sans", Arial, Helvetica, sans-serif' font-weight="normal">31.76%</text>
<text transform="translate(439.3 458.9) scale(0.905 1)" font-size="8.5" fill="#1f1f1f" stroke="#1f1f1f" stroke-width="0.18" text-anchor="start" font-family='"Liberation Sans", Arial, Helvetica, sans-serif' font-weight="normal">(7.305mg)</text>
<text transform="translate(456.2 514.9) scale(0.905 1)" font-size="8.5" fill="#1f1f1f" stroke="#1f1f1f" stroke-width="0.18" text-anchor="start" font-family='"Liberation Sans", Arial, Helvetica, sans-serif' font-weight="normal">725.52°C</text>
<text transform="translate(493.9 534.2) scale(0.905 1)" font-size="8.5" fill="#1f1f1f" stroke="#1f1f1f" stroke-width="0.18" text-anchor="start" font-family='"Liberation Sans", Arial, Helvetica, sans-serif' font-weight="normal">690.77°C</text>
<text transform="translate(493.9 543.5) scale(0.905 1)" font-size="8.5" fill="#1f1f1f" stroke="#1f1f1f" stroke-width="0.18" text-anchor="start" font-family='"Liberation Sans", Arial, Helvetica, sans-serif' font-weight="normal">0.03674%·min/°C</text>
<text transform="translate(600.2 602.9) scale(0.905 1)" font-size="8.5" fill="#1f1f1f" stroke="#1f1f1f" stroke-width="0.18" text-anchor="start" font-family='"Liberation Sans", Arial, Helvetica, sans-serif' font-weight="normal">7.294%</text>
<text transform="translate(599.9 612.0) scale(0.905 1)" font-size="8.5" fill="#1f1f1f" stroke="#1f1f1f" stroke-width="0.18" text-anchor="start" font-family='"Liberation Sans", Arial, Helvetica, sans-serif' font-weight="normal">(1.678mg)</text>
<text x="631.0" y="379.2" font-size="14.5" fill="#178a40" text-anchor="end" font-family='"Liberation Serif", "Times New Roman", serif' font-weight="bold" textLength="105.9" lengthAdjust="spacingAndGlyphs">(b) GASC (TGA)</text>
<text x="631.0" y="395.4" font-size="14.5" fill="#0a0ae6" text-anchor="end" font-family='"Liberation Serif", "Times New Roman", serif' font-weight="bold" textLength="84.6" lengthAdjust="spacingAndGlyphs">GASC (DTA)</text>
<line x1="34.0" y1="713.9" x2="636.0" y2="713.9" stroke="#666" stroke-width="1.9"/>
<line x1="635.0" y1="713.9" x2="635.0" y2="1025.9" stroke="#8c8c8c" stroke-width="2"/>
<line x1="39.3" y1="1025.4" x2="636.0" y2="1025.4" stroke="#3a3a3a" stroke-width="1.1"/>
<line x1="39.3" y1="713.9" x2="39.3" y2="1025.9" stroke="#3a3a3a" stroke-width="1.1"/>
<line x1="34.3" y1="1025.4" x2="39.3" y2="1025.4" stroke="#3a3a3a" stroke-width="1"/>
<text transform="translate(30.7 1028.7) scale(0.95 1)" font-size="8.8" fill="#1f1f1f" stroke="#1f1f1f" stroke-width="0.22" text-anchor="end" font-family='"Liberation Sans", Arial, Helvetica, sans-serif' font-weight="normal">-3</text>
<line x1="36.6" y1="1009.8" x2="39.3" y2="1009.8" stroke="#3a3a3a" stroke-width="0.9"/>
<line x1="36.6" y1="994.2" x2="39.3" y2="994.2" stroke="#3a3a3a" stroke-width="0.9"/>
<line x1="36.6" y1="978.7" x2="39.3" y2="978.7" stroke="#3a3a3a" stroke-width="0.9"/>
<line x1="34.3" y1="963.1" x2="39.3" y2="963.1" stroke="#3a3a3a" stroke-width="1"/>
<text transform="translate(30.7 966.4) scale(0.95 1)" font-size="8.8" fill="#1f1f1f" stroke="#1f1f1f" stroke-width="0.22" text-anchor="end" font-family='"Liberation Sans", Arial, Helvetica, sans-serif' font-weight="normal">-2</text>
<line x1="36.6" y1="947.5" x2="39.3" y2="947.5" stroke="#3a3a3a" stroke-width="0.9"/>
<line x1="36.6" y1="932.0" x2="39.3" y2="932.0" stroke="#3a3a3a" stroke-width="0.9"/>
<line x1="36.6" y1="916.4" x2="39.3" y2="916.4" stroke="#3a3a3a" stroke-width="0.9"/>
<line x1="34.3" y1="900.8" x2="39.3" y2="900.8" stroke="#3a3a3a" stroke-width="1"/>
<text transform="translate(30.7 904.1) scale(0.95 1)" font-size="8.8" fill="#1f1f1f" stroke="#1f1f1f" stroke-width="0.22" text-anchor="end" font-family='"Liberation Sans", Arial, Helvetica, sans-serif' font-weight="normal">-1</text>
<line x1="36.6" y1="885.2" x2="39.3" y2="885.2" stroke="#3a3a3a" stroke-width="0.9"/>
<line x1="36.6" y1="869.7" x2="39.3" y2="869.7" stroke="#3a3a3a" stroke-width="0.9"/>
<line x1="36.6" y1="854.1" x2="39.3" y2="854.1" stroke="#3a3a3a" stroke-width="0.9"/>
<line x1="34.3" y1="838.5" x2="39.3" y2="838.5" stroke="#3a3a3a" stroke-width="1"/>
<text transform="translate(30.7 841.8) scale(0.95 1)" font-size="8.8" fill="#1f1f1f" stroke="#1f1f1f" stroke-width="0.22" text-anchor="end" font-family='"Liberation Sans", Arial, Helvetica, sans-serif' font-weight="normal">0</text>
<line x1="36.6" y1="822.9" x2="39.3" y2="822.9" stroke="#3a3a3a" stroke-width="0.9"/>
<line x1="36.6" y1="807.4" x2="39.3" y2="807.4" stroke="#3a3a3a" stroke-width="0.9"/>
<line x1="36.6" y1="791.8" x2="39.3" y2="791.8" stroke="#3a3a3a" stroke-width="0.9"/>
<line x1="34.3" y1="776.2" x2="39.3" y2="776.2" stroke="#3a3a3a" stroke-width="1"/>
<text transform="translate(30.7 779.5) scale(0.95 1)" font-size="8.8" fill="#1f1f1f" stroke="#1f1f1f" stroke-width="0.22" text-anchor="end" font-family='"Liberation Sans", Arial, Helvetica, sans-serif' font-weight="normal">1</text>
<line x1="36.6" y1="760.6" x2="39.3" y2="760.6" stroke="#3a3a3a" stroke-width="0.9"/>
<line x1="36.6" y1="745.0" x2="39.3" y2="745.0" stroke="#3a3a3a" stroke-width="0.9"/>
<line x1="36.6" y1="729.5" x2="39.3" y2="729.5" stroke="#3a3a3a" stroke-width="0.9"/>
<line x1="34.3" y1="713.9" x2="39.3" y2="713.9" stroke="#3a3a3a" stroke-width="1"/>
<text transform="translate(30.7 717.2) scale(0.95 1)" font-size="8.8" fill="#1f1f1f" stroke="#1f1f1f" stroke-width="0.22" text-anchor="end" font-family='"Liberation Sans", Arial, Helvetica, sans-serif' font-weight="normal">2</text>
<line x1="39.3" y1="1025.4" x2="39.3" y2="1028.9" stroke="#3a3a3a" stroke-width="1"/>
<text transform="translate(39.3 1036.9) scale(0.95 1)" font-size="8.8" fill="#1f1f1f" stroke="#1f1f1f" stroke-width="0.22" text-anchor="middle" font-family='"Liberation Sans", Arial, Helvetica, sans-serif' font-weight="normal">0</text>
<line x1="69.1" y1="1025.4" x2="69.1" y2="1027.2" stroke="#3a3a3a" stroke-width="0.8"/>
<line x1="98.9" y1="1025.4" x2="98.9" y2="1027.2" stroke="#3a3a3a" stroke-width="0.8"/>
<line x1="128.7" y1="1025.4" x2="128.7" y2="1027.2" stroke="#3a3a3a" stroke-width="0.8"/>
<line x1="158.5" y1="1025.4" x2="158.5" y2="1028.9" stroke="#3a3a3a" stroke-width="1"/>
<text transform="translate(158.5 1036.9) scale(0.95 1)" font-size="8.8" fill="#1f1f1f" stroke="#1f1f1f" stroke-width="0.22" text-anchor="middle" font-family='"Liberation Sans", Arial, Helvetica, sans-serif' font-weight="normal">200</text>
<line x1="188.3" y1="1025.4" x2="188.3" y2="1027.2" stroke="#3a3a3a" stroke-width="0.8"/>
<line x1="218.1" y1="1025.4" x2="218.1" y2="1027.2" stroke="#3a3a3a" stroke-width="0.8"/>
<line x1="247.9" y1="1025.4" x2="247.9" y2="1027.2" stroke="#3a3a3a" stroke-width="0.8"/>
<line x1="277.7" y1="1025.4" x2="277.7" y2="1028.9" stroke="#3a3a3a" stroke-width="1"/>
<text transform="translate(277.7 1036.9) scale(0.95 1)" font-size="8.8" fill="#1f1f1f" stroke="#1f1f1f" stroke-width="0.22" text-anchor="middle" font-family='"Liberation Sans", Arial, Helvetica, sans-serif' font-weight="normal">400</text>
<line x1="307.5" y1="1025.4" x2="307.5" y2="1027.2" stroke="#3a3a3a" stroke-width="0.8"/>
<line x1="337.4" y1="1025.4" x2="337.4" y2="1027.2" stroke="#3a3a3a" stroke-width="0.8"/>
<line x1="367.2" y1="1025.4" x2="367.2" y2="1027.2" stroke="#3a3a3a" stroke-width="0.8"/>
<line x1="397.0" y1="1025.4" x2="397.0" y2="1028.9" stroke="#3a3a3a" stroke-width="1"/>
<text transform="translate(397.0 1036.9) scale(0.95 1)" font-size="8.8" fill="#1f1f1f" stroke="#1f1f1f" stroke-width="0.22" text-anchor="middle" font-family='"Liberation Sans", Arial, Helvetica, sans-serif' font-weight="normal">600</text>
<line x1="426.8" y1="1025.4" x2="426.8" y2="1027.2" stroke="#3a3a3a" stroke-width="0.8"/>
<line x1="456.6" y1="1025.4" x2="456.6" y2="1027.2" stroke="#3a3a3a" stroke-width="0.8"/>
<line x1="486.4" y1="1025.4" x2="486.4" y2="1027.2" stroke="#3a3a3a" stroke-width="0.8"/>
<line x1="516.2" y1="1025.4" x2="516.2" y2="1028.9" stroke="#3a3a3a" stroke-width="1"/>
<text transform="translate(516.2 1036.9) scale(0.95 1)" font-size="8.8" fill="#1f1f1f" stroke="#1f1f1f" stroke-width="0.22" text-anchor="middle" font-family='"Liberation Sans", Arial, Helvetica, sans-serif' font-weight="normal">800</text>
<line x1="546.0" y1="1025.4" x2="546.0" y2="1027.2" stroke="#3a3a3a" stroke-width="0.8"/>
<line x1="575.8" y1="1025.4" x2="575.8" y2="1027.2" stroke="#3a3a3a" stroke-width="0.8"/>
<line x1="605.6" y1="1025.4" x2="605.6" y2="1027.2" stroke="#3a3a3a" stroke-width="0.8"/>
<line x1="635.4" y1="1025.4" x2="635.4" y2="1028.9" stroke="#3a3a3a" stroke-width="1"/>
<text transform="translate(635.4 1036.9) scale(0.95 1)" font-size="8.8" fill="#1f1f1f" stroke="#1f1f1f" stroke-width="0.22" text-anchor="middle" font-family='"Liberation Sans", Arial, Helvetica, sans-serif' font-weight="normal">1000</text>
<text transform="translate(13.8 867.5) rotate(-90)" font-size="10" fill="#2a2a2a" text-anchor="middle" font-family='"Liberation Sans", Arial, Helvetica, sans-serif'>Heat Flow (W/g)</text>
<text transform="translate(338.3 1053.1) scale(0.985 0.98)" font-size="10" fill="#222" stroke="#222" stroke-width="0.2" text-anchor="middle" font-family='"Liberation Sans", Arial, Helvetica, sans-serif'>Temperature (°C)</text>
<line x1="241.0" y1="869.5" x2="599.7" y2="850.2" stroke="#ff7070" stroke-width="0.9"/>
<line x1="90.4" y1="981.2" x2="628.8" y2="894.7" stroke="#ff7070" stroke-width="0.9"/>
<path d="M54.5 776.6C54.5 777.5 54.4 780.2 54.5 782.0C54.6 783.8 54.5 784.8 54.9 787.5C55.3 790.2 56.0 793.8 56.9 798.3C57.8 802.8 58.9 808.8 60.1 814.4C61.3 820.0 62.9 826.5 64.2 832.1C65.5 837.7 66.9 843.1 68.2 848.2C69.5 853.3 70.7 858.1 72.2 862.7C73.7 867.3 75.2 871.6 77.0 875.6C78.8 879.6 80.8 883.7 82.7 886.9C84.6 890.1 86.3 892.5 88.3 894.9C90.3 897.3 92.6 899.6 94.8 901.4C97.0 903.1 99.1 904.4 101.2 905.4C103.3 906.4 105.4 907.3 107.6 907.5C109.8 907.7 111.1 907.2 114.1 906.5C117.0 905.8 120.8 904.3 125.3 903.0C129.8 901.7 135.4 900.1 140.9 898.8C146.4 897.5 152.7 896.4 158.5 895.0C164.3 893.6 170.2 892.2 176.0 890.7C181.8 889.2 187.7 888.0 193.5 886.3C199.3 884.6 206.6 881.8 211.0 880.4C215.4 879.0 216.8 879.0 220.0 878.0C223.2 877.0 226.5 876.1 230.0 874.7C233.5 873.3 236.2 871.9 241.1 869.7C246.0 867.6 253.8 864.4 259.2 861.8C264.6 859.2 268.9 856.7 273.8 854.0C278.7 851.3 283.5 848.5 288.4 845.8C293.3 843.0 298.1 840.2 303.0 837.5C307.9 834.8 312.7 832.0 317.6 829.3C322.5 826.6 327.3 823.9 332.2 821.3C337.1 818.7 341.9 816.1 346.8 813.8C351.7 811.5 356.5 809.5 361.4 807.6C366.3 805.7 371.8 803.9 376.0 802.4C380.2 800.9 383.0 800.1 386.7 798.9C390.4 797.7 394.5 796.4 398.4 795.4C402.3 794.4 406.7 793.6 410.0 793.1C413.3 792.6 415.1 792.5 418.0 792.5C420.9 792.5 424.1 792.4 427.6 792.8C431.2 793.2 435.6 794.0 439.3 794.9C443.0 795.8 445.3 796.6 449.9 798.0C454.4 799.4 461.1 801.2 466.6 803.2C472.2 805.2 477.0 807.7 483.2 810.3C489.4 812.9 497.1 816.0 504.0 818.6C510.9 821.2 517.9 823.5 524.8 826.1C531.7 828.7 538.7 831.4 545.6 834.0C552.5 836.6 560.1 839.4 566.4 841.5C572.6 843.6 577.6 845.1 583.1 846.5C588.6 847.9 595.8 849.0 599.4 850.0C603.0 851.0 603.0 851.6 604.7 852.2C606.5 852.9 608.6 853.8 609.9 853.9C611.2 854.0 611.7 853.2 612.6 853.1C613.5 853.0 614.2 853.1 615.2 853.5C616.2 853.9 617.4 855.0 618.5 855.5C619.6 856.0 620.7 856.1 621.8 856.4C622.9 856.7 624.3 856.9 625.0 857.5C625.7 858.1 625.8 859.6 626.1 859.8C626.4 860.0 626.2 858.9 627.0 858.8C627.8 858.7 630.3 859.3 631.0 859.4" fill="none" stroke="#f01818" stroke-width="1.25" stroke-linejoin="round" stroke-linecap="round"/>
<path d="M53.7 768.5C54.0 770.8 54.6 777.5 55.3 782.2C56.0 786.9 56.8 790.8 57.7 796.7C58.6 802.6 59.9 810.9 60.9 817.6C61.9 824.3 63.1 831.6 63.8 837.0C64.5 842.4 64.8 845.4 65.3 850.0C65.8 854.6 66.2 859.2 66.8 864.6C67.4 870.0 68.2 876.0 69.0 882.1C69.8 888.2 70.8 894.8 71.9 901.1C73.0 907.4 74.3 914.0 75.5 920.1C76.7 926.2 78.0 931.8 79.2 937.6C80.4 943.4 81.6 949.8 82.8 955.1C84.0 960.5 85.4 965.7 86.5 969.7C87.6 973.7 88.7 977.3 89.4 979.2C90.1 981.1 89.9 981.6 90.6 981.2C91.3 980.8 92.3 978.7 93.8 977.0C95.3 975.3 97.6 973.4 99.6 971.2C101.5 969.0 103.5 966.1 105.5 963.9C107.5 961.7 109.6 959.3 111.3 958.0C113.0 956.7 114.0 956.6 115.7 956.3C117.4 956.0 119.8 956.8 121.5 956.3C123.2 955.8 124.2 954.9 125.9 953.6C127.6 952.3 129.9 949.7 131.8 948.5C133.8 947.3 135.1 947.0 137.6 946.4C140.1 945.8 143.2 945.5 146.8 944.7C150.4 944.0 156.0 943.0 159.3 941.9C162.7 940.8 164.8 938.1 166.9 937.8C169.1 937.5 169.6 940.0 172.2 940.1C174.8 940.2 179.8 938.7 182.7 938.7C185.6 938.7 186.8 939.3 189.7 940.1C192.6 940.9 196.7 942.5 200.2 943.6C203.7 944.7 207.4 945.9 210.7 946.8C214.0 947.7 216.6 948.1 220.1 948.9C223.6 949.7 227.8 950.9 231.7 951.8C235.6 952.7 239.5 953.7 243.4 954.2C247.3 954.7 251.1 954.8 255.0 954.7C258.9 954.6 262.8 954.0 266.7 953.6C270.6 953.2 274.5 952.7 278.4 952.1C282.3 951.5 286.2 950.7 290.1 949.8C294.0 948.9 299.0 947.4 301.8 946.5C304.6 945.6 305.0 945.2 306.7 944.3C308.4 943.4 310.1 942.4 312.0 941.0C313.9 939.6 316.5 937.8 318.4 936.1C320.3 934.4 321.8 932.9 323.5 931.0C325.2 929.1 326.6 928.0 328.9 925.0C331.2 922.0 334.4 917.2 337.3 913.0C340.2 908.8 343.2 905.5 346.4 900.0C349.6 894.5 353.1 886.7 356.4 880.0C359.7 873.3 363.5 865.8 366.4 860.0C369.3 854.2 371.4 849.3 373.9 845.0C376.4 840.7 378.9 836.7 381.5 834.0C384.1 831.3 386.4 829.8 389.3 828.6C392.2 827.4 395.3 826.9 398.7 826.6C402.1 826.3 406.8 826.6 409.8 826.6C412.8 826.6 412.7 826.1 416.6 826.9C420.5 827.6 427.8 829.7 433.3 831.1C438.9 832.5 445.0 834.0 449.9 835.2C454.8 836.4 458.6 837.3 462.4 838.1C466.2 838.9 469.3 839.9 472.8 839.8C476.3 839.7 479.7 838.0 483.2 837.3C486.7 836.6 490.5 835.2 493.6 835.6C496.7 836.0 498.8 838.0 501.9 839.4C505.0 840.8 507.8 843.2 512.3 844.0C516.8 844.8 524.1 843.4 529.0 844.4C533.9 845.4 537.4 847.6 541.5 849.8C545.6 851.9 549.8 854.7 553.9 857.3C558.0 859.9 561.5 862.3 566.4 865.3C571.3 868.3 577.5 872.1 583.1 875.2C588.7 878.3 594.9 881.4 599.7 883.8C604.6 886.2 608.4 887.8 612.2 889.4C616.0 891.0 619.9 892.5 622.6 893.4C625.3 894.3 627.3 894.6 628.3 894.9" fill="none" stroke="#4646f2" stroke-width="0.85" stroke-linejoin="round" stroke-linecap="butt" stroke-dasharray="5.6 3.2"/>
<line x1="116.0" y1="906.0" x2="141.0" y2="898.8" stroke="#222" stroke-width="0.7"/>
<line x1="125.3" y1="900.0" x2="125.3" y2="907.0" stroke="#1a1a1a" stroke-width="0.8"/>
<line x1="90.6" y1="980.7" x2="117.9" y2="946.1" stroke="#444" stroke-width="0.65"/>
<line x1="90.4" y1="977.0" x2="90.4" y2="985.0" stroke="#1a1a1a" stroke-width="0.9"/>
<line x1="246.1" y1="870.1" x2="379.5" y2="794.8" stroke="#444" stroke-width="0.65"/>
<line x1="246.4" y1="866.1" x2="246.4" y2="873.7" stroke="#1a1a1a" stroke-width="1.2"/>
<line x1="323.6" y1="945.4" x2="381.8" y2="829.3" stroke="#444" stroke-width="0.65"/>
<line x1="323.4" y1="939.6" x2="323.4" y2="947.2" stroke="#1a1a1a" stroke-width="0.9"/>
<line x1="108.2" y1="904.3" x2="108.2" y2="910.3" stroke="#ff2020" stroke-width="0.9"/>
<line x1="140.9" y1="895.8" x2="140.9" y2="901.8" stroke="#ff2020" stroke-width="0.9"/>
<line x1="157.9" y1="892.0" x2="157.9" y2="898.0" stroke="#ff2020" stroke-width="0.9"/>
<line x1="241.1" y1="866.0" x2="241.1" y2="874.0" stroke="#ff6060" stroke-width="1"/>
<line x1="166.9" y1="934.3" x2="166.9" y2="941.9" stroke="#ff2020" stroke-width="0.9"/>
<line x1="255.6" y1="951.2" x2="255.6" y2="957.2" stroke="#ff2020" stroke-width="0.9"/>
<line x1="398.6" y1="823.1" x2="398.6" y2="830.9" stroke="#ff2020" stroke-width="0.9"/>
<line x1="418.0" y1="788.4" x2="418.0" y2="796.6" stroke="#ff2020" stroke-width="0.9"/>
<line x1="599.7" y1="847.2" x2="599.7" y2="853.2" stroke="#ff2020" stroke-width="0.9"/>
<line x1="628.8" y1="891.5" x2="628.8" y2="897.9" stroke="#ff2020" stroke-width="0.9"/>
<line x1="90.4" y1="978.2" x2="90.4" y2="984.2" stroke="#b00000" stroke-width="1"/>
<text transform="translate(124.9 895.0) scale(0.905 1)" font-size="8.5" fill="#1f1f1f" stroke="#1f1f1f" stroke-width="0.18" text-anchor="start" font-family='"Liberation Sans", Arial, Helvetica, sans-serif' font-weight="normal">170.19°C</text>
<text transform="translate(101.8 914.3) scale(0.905 1)" font-size="8.5" fill="#1f1f1f" stroke="#1f1f1f" stroke-width="0.18" text-anchor="start" font-family='"Liberation Sans", Arial, Helvetica, sans-serif' font-weight="normal">144.83°C</text>
<text transform="translate(101.8 923.7) scale(0.905 1)" font-size="8.5" fill="#1f1f1f" stroke="#1f1f1f" stroke-width="0.18" text-anchor="start" font-family='"Liberation Sans", Arial, Helvetica, sans-serif' font-weight="normal">21.47mJ</text>
<text transform="translate(160.5 931.5) scale(0.905 1)" font-size="8.5" fill="#1f1f1f" stroke="#1f1f1f" stroke-width="0.18" text-anchor="start" font-family='"Liberation Sans", Arial, Helvetica, sans-serif' font-weight="normal">214.23°C</text>
<text transform="translate(76.7 993.7) scale(0.905 1)" font-size="8.5" fill="#1f1f1f" stroke="#1f1f1f" stroke-width="0.18" text-anchor="start" font-family='"Liberation Sans", Arial, Helvetica, sans-serif' font-weight="normal">86.58°C</text>
<text transform="translate(76.7 1003.0) scale(0.905 1)" font-size="8.5" fill="#1f1f1f" stroke="#1f1f1f" stroke-width="0.18" text-anchor="start" font-family='"Liberation Sans", Arial, Helvetica, sans-serif' font-weight="normal">6563mJ</text>
<text transform="translate(238.1 879.7) scale(0.905 1)" font-size="8.5" fill="#1f1f1f" stroke="#1f1f1f" stroke-width="0.18" text-anchor="start" font-family='"Liberation Sans", Arial, Helvetica, sans-serif' font-weight="normal">347.26°C</text>
<text transform="translate(238.1 889.0) scale(0.905 1)" font-size="8.5" fill="#1f1f1f" stroke="#1f1f1f" stroke-width="0.18" text-anchor="start" font-family='"Liberation Sans", Arial, Helvetica, sans-serif' font-weight="normal">49604mJ</text>
<text transform="translate(308.2 956.2) scale(0.905 1)" font-size="8.5" fill="#1f1f1f" stroke="#1f1f1f" stroke-width="0.18" text-anchor="start" font-family='"Liberation Sans", Arial, Helvetica, sans-serif' font-weight="normal">477.66°C</text>
<text transform="translate(308.2 965.0) scale(0.905 1)" font-size="8.5" fill="#1f1f1f" stroke="#1f1f1f" stroke-width="0.18" text-anchor="start" font-family='"Liberation Sans", Arial, Helvetica, sans-serif' font-weight="normal">43391mJ</text>
<text transform="translate(382.6 819.9) scale(0.905 1)" font-size="8.5" fill="#1f1f1f" stroke="#1f1f1f" stroke-width="0.18" text-anchor="start" font-family='"Liberation Sans", Arial, Helvetica, sans-serif' font-weight="normal">602.83°C</text>
<text transform="translate(402.1 787.9) scale(0.905 1)" font-size="8.5" fill="#1f1f1f" stroke="#1f1f1f" stroke-width="0.18" text-anchor="start" font-family='"Liberation Sans", Arial, Helvetica, sans-serif' font-weight="normal">635.77°C</text>
<text x="529.1" y="740.2" font-size="20" fill="#f01010" text-anchor="start" font-family='"Liberation Serif", "Times New Roman", serif' font-weight="bold" textLength="19.8" lengthAdjust="spacingAndGlyphs">(c)</text>
<line x1="556.3" y1="725.8" x2="580.4" y2="725.8" stroke="#ff4040" stroke-width="0.9"/>
<line x1="556.8" y1="744.1" x2="580.6" y2="744.1" stroke="#4a4af0" stroke-width="0.9" stroke-dasharray="3.9 2.1"/>
<text x="586.2" y="731.3" font-size="14.5" fill="#f01010" text-anchor="start" font-family='"Liberation Serif", "Times New Roman", serif' font-weight="bold" textLength="40.4" lengthAdjust="spacingAndGlyphs">GAUL</text>
<text x="586.2" y="748.0" font-size="14.5" fill="#0a0ae6" text-anchor="start" font-family='"Liberation Serif", "Times New Roman", serif' font-weight="bold" textLength="39.8" lengthAdjust="spacingAndGlyphs">GASC</text>
</svg>
</body>
</html>
